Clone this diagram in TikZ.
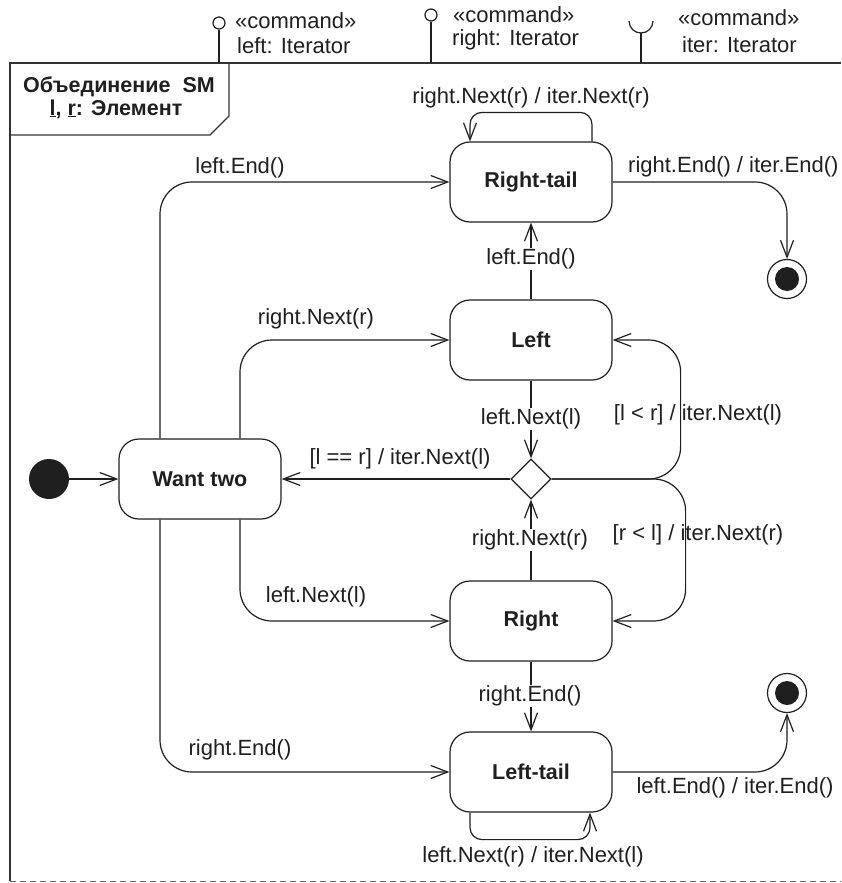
\documentclass[tikz,border=0pt]{standalone}
\usepackage{fontspec}
\setmainfont{Liberation Sans}
\usetikzlibrary{arrows.meta,shapes.geometric}
\begin{document}
\begin{tikzpicture}[x=1pt,y=-1pt,
  ink/.style={draw=black!88, line width=1.2pt},
  stbox/.style={ink, rectangle, rounded corners=20pt, minimum width=162pt, minimum height=80pt,
     font=\fontsize{21.5}{24}\selectfont\bfseries, text=black!88},
  tr/.style={ink, -{Straight Barb[length=17pt,width=13pt]}, rounded corners=32pt},
  lab/.style={font=\fontsize{22}{24}\selectfont, text=black!88, inner sep=0pt},
  ilab/.style={lab, anchor=west},
  initst/.style={circle, fill=black!88, minimum size=40pt, inner sep=0pt},
  finalst/.style={circle, ink, minimum size=39pt, inner sep=0pt,
     path picture={\fill[black!88] (path picture bounding box.center) circle (12pt);}},
  choice/.style={diamond, ink, minimum width=40pt, minimum height=40pt, inner sep=0pt, aspect=1},
  lolli/.style={circle, ink, minimum size=12pt, inner sep=0pt},
  framest/.style={draw=black!80, line width=1.4pt}
]
\useasboundingbox (0,0) rectangle (841,883);

% frame
\draw[framest] (841,63) -- (10,63) -- (10,881);
\draw[draw=black!60, line width=1pt, dash pattern=on 6pt off 4pt] (10,881) -- (841,881);
\draw[framest] (10,135) -- (210,135) -- (229,116) -- (229,63);
\node[lab, font=\fontsize{21.5}{24}\selectfont\bfseries] (title1) at (119,87) {Объединение\ \ SM};
\node[lab, font=\fontsize{21.5}{24}\selectfont\bfseries] (title2) at (116,109) {\underline{l}, \underline{r}: Элемент};

% interfaces
\coordinate (ftop) at (0,63);
\node[lolli] (lp1) at (219,23) {};
\draw[ink] (lp1.south) -- (lp1 |- ftop);
\node[ilab] (lc1) at (235,21) {«command»};
\node[ilab] (li1) at (237,46) {left: Iterator};
\node[lolli] (lp2) at (431,15) {};
\draw[ink] (lp2.south) -- (lp2 |- ftop);
\node[ilab] (lc2) at (453,15) {«command»};
\node[ilab] (li2) at (452,40) {right: Iterator};
\coordinate (sock) at (641,33);
\draw[ink] (629,21) arc[start angle=180, end angle=360, radius=12pt];
\draw[ink] (sock) -- (sock |- ftop);
\node[ilab] (lc3) at (678,18) {«command»};
\node[ilab] (li3) at (682,45) {iter: Iterator};

% states
\node[stbox] (rt) at (531,182) {Right-tail};
\node[stbox] (lf) at (531,340) {Left};
\node[stbox] (wt) at (200,479) {Want two};
\node[stbox] (rg) at (531,621) {Right};
\node[stbox] (lt) at (531,772) {Left-tail};
\node[choice] (ch) at (531,479) {};
\node[initst] (init) at (49,479) {};
\node[finalst] (fin1) at (787,279) {};
\node[finalst] (fin2) at (787,693) {};

% transitions
\draw[tr] (init) -- (wt.west);
\draw[tr] ([xshift=-40pt]wt.north) |- (rt.west);
\draw[tr] ([xshift=40pt]wt.north) |- (lf.west);
\draw[tr] ([xshift=40pt]wt.south) |- (rg.west);
\draw[tr] ([xshift=-40pt]wt.south) |- (lt.west);
\draw[tr] (lf.north) -- (rt.south);
\draw[tr] (lf.south) -- (ch.north);
\draw[tr] (rg.north) -- (ch.south);
\draw[tr] (ch.west) -- (wt.east);
\draw[tr] (ch.east) -| ([xshift=68pt]lf.east) -- (lf.east);
\draw[tr] (ch.east) -| ([xshift=73pt]rg.east) -- (rg.east);
\draw[tr] (rg.south) -- (lt.north);
\draw[tr, rounded corners=12pt] ([xshift=61pt]rt.north) -- ++(0,-29) -| ([xshift=-61pt]rt.north);
\draw[tr, rounded corners=12pt] ([xshift=-61pt]lt.south) -- ++(0,27) -| ([xshift=59pt]lt.south);
\draw[tr] (rt.east) -| (fin1.north);
\draw[tr] (lt.east) -| (fin2.south);

% labels
\node[lab] (t1) at (531,98) {right.Next(r) / iter.Next(r)};
\node[lab] (t2) at (240,168) {left.End()};
\node[lab, anchor=west] (t3) at (628,167) {right.End() / iter.End()};
\node[lab, fill=white, inner sep=1pt] (t4) at (531,259) {left.End()};
\node[lab] (t5) at (316,319) {right.Next(r)};
\node[lab, fill=white, inner sep=1pt] (t6) at (531,419) {left.Next(l)};
\node[lab] (t7) at (698,415) {[l < r] / iter.Next(l)};
\node[lab] (t8) at (400,459) {[l == r] / iter.Next(l)};
\node[lab, fill=white, inner sep=1pt] (t9) at (530,540) {right.Next(r)};
\node[lab] (t10) at (698,535) {[r < l] / iter.Next(r)};
\node[lab] (t11) at (316,597) {left.Next(l)};
\node[lab, fill=white, inner sep=1pt] (t12) at (530,696) {right.End()};
\node[lab] (t13) at (240,750) {right.End()};
\node[lab] (t14) at (735,788) {left.End() / iter.End()};
\node[lab] (t15) at (533,857) {left.Next(r) / iter.Next(l)};
\end{tikzpicture}
\end{document}
